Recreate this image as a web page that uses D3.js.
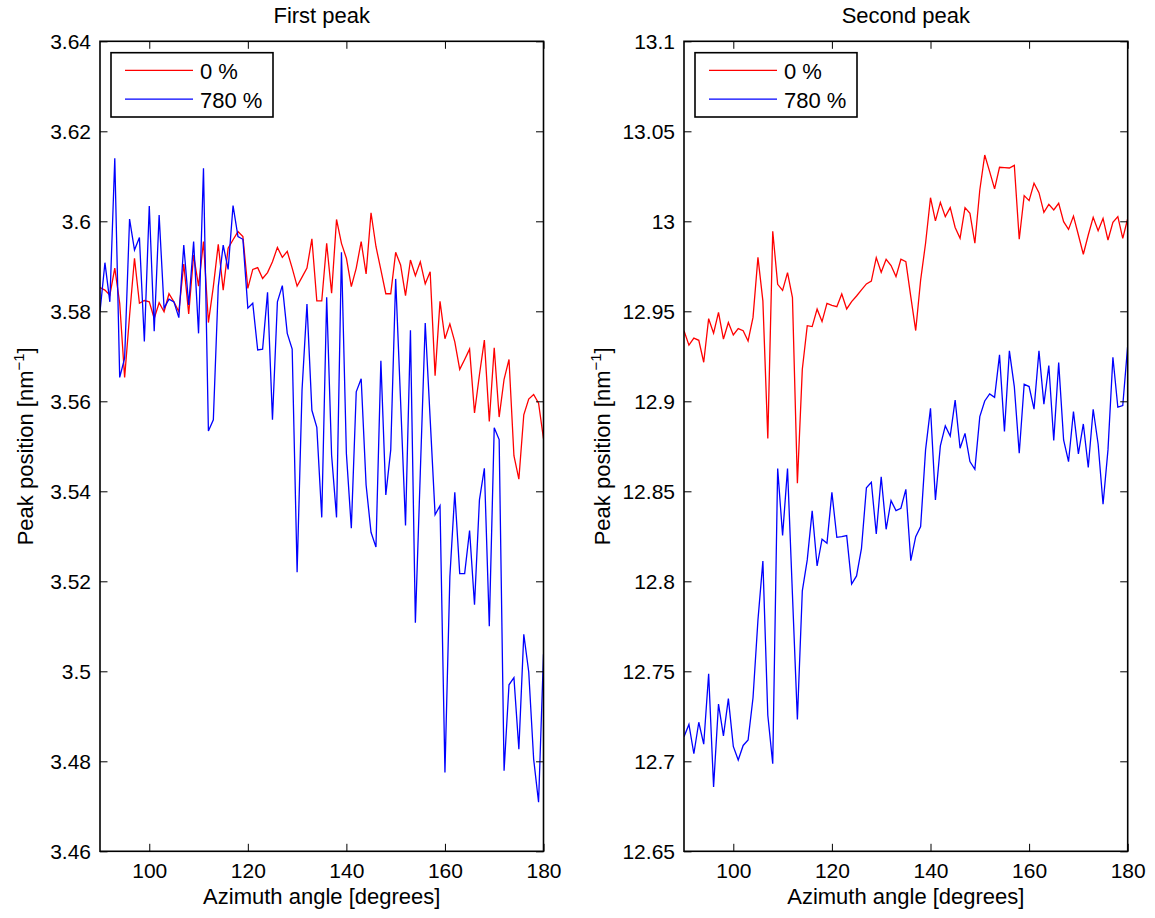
<!DOCTYPE html>
<html>
<head>
<meta charset="utf-8">
<script src="https://cdn.jsdelivr.net/npm/d3@7"></script>
<style>
  body { margin: 0; background: #fff; }
  svg { display: block; font-family: "Liberation Sans", Arial, sans-serif; }
</style>
</head>
<body>
<svg id="chart" width="1155" height="918"></svg>
<script>
// Azimuth angles, one sample per degree
const angles = d3.range(90, 181);
const seriesNames = ['0 %', '780 %'];
const seriesColors = ['#ff0000', '#0000ff'];
const xTicks = [100, 120, 140, 160, 180];

// First peak positions [nm^-1]
const firstPeak0 = [
  3.5853, 3.5847, 3.5836, 3.5896, 3.5818, 3.5653, 3.5790, 3.5918, 3.5818, 3.5824,
  3.5821, 3.5784, 3.5819, 3.5799, 3.5839, 3.5821, 3.5799, 3.5905, 3.5794, 3.5925,
  3.5856, 3.5955, 3.5775, 3.5855, 3.5949, 3.5847, 3.5940, 3.5959, 3.5977, 3.5966,
  3.5851, 3.5893, 3.5897, 3.5873, 3.5886, 3.5910, 3.5942, 3.5920, 3.5933, 3.5896,
  3.5856, 3.5876, 3.5896, 3.5961, 3.5823, 3.5823, 3.5951, 3.5840, 3.6004, 3.5951,
  3.5918, 3.5855, 3.5896, 3.5955, 3.5883, 3.6019, 3.5944, 3.5892, 3.5839, 3.5839,
  3.5931, 3.5903, 3.5835, 3.5914, 3.5879, 3.5910, 3.5861, 3.5888, 3.5657, 3.5822,
  3.5739, 3.5772, 3.5732, 3.5671, 3.5693, 3.5716, 3.5574, 3.5659, 3.5736, 3.5555,
  3.5719, 3.5565, 3.5649, 3.5693, 3.5479, 3.5427, 3.5570, 3.5605, 3.5615, 3.5596,
  3.5517
];
const firstPeak780 = [
  3.5799, 3.5908, 3.5821, 3.6140, 3.5653, 3.5696, 3.6005, 3.5936, 3.5964, 3.5733,
  3.6034, 3.5756, 3.6014, 3.5807, 3.5827, 3.5821, 3.5786, 3.5947, 3.5814, 3.5955,
  3.5751, 3.6118, 3.5534, 3.5559, 3.5855, 3.5947, 3.5893, 3.6035, 3.5966, 3.5960,
  3.5807, 3.5818, 3.5714, 3.5716, 3.5842, 3.5559, 3.5821, 3.5857, 3.5751, 3.5716,
  3.5220, 3.5625, 3.5816, 3.5580, 3.5542, 3.5342, 3.5831, 3.5480, 3.5342, 3.5931,
  3.5484, 3.5318, 3.5621, 3.5650, 3.5414, 3.5309, 3.5276, 3.5690, 3.5392, 3.5492,
  3.5872, 3.5600, 3.5324, 3.5758, 3.5108, 3.5442, 3.5774, 3.5561, 3.5348, 3.5368,
  3.4775, 3.5210, 3.5398, 3.5217, 3.5217, 3.5313, 3.5148, 3.5381, 3.5451, 3.5100,
  3.5541, 3.5515, 3.4779, 3.4970, 3.4986, 3.4827, 3.5082, 3.4999, 3.4805, 3.4709,
  3.5038
];
const firstTicks = [3.46, 3.48, 3.5, 3.52, 3.54, 3.56, 3.58, 3.6, 3.62, 3.64];

// Second peak positions [nm^-1]
const secondPeak0 = [
  12.9392, 12.9312, 12.9351, 12.9339, 12.9217, 12.9459, 12.9378, 12.9494, 12.9346, 12.9438,
  12.9369, 12.9404, 12.9392, 12.9335, 12.9466, 12.9800, 12.9558, 12.8794, 12.9945, 12.9650,
  12.9616, 12.9715, 12.9576, 12.8545, 12.9178, 12.9420, 12.9415, 12.9512, 12.9443, 12.9544,
  12.9533, 12.9526, 12.9596, 12.9513, 12.9554, 12.9585, 12.9619, 12.9652, 12.9668, 12.9798,
  12.9717, 12.9789, 12.9754, 12.9693, 12.9789, 12.9776, 12.9582, 12.9393, 12.9674, 12.9878,
  13.0131, 13.0002, 13.0105, 13.0026, 13.0076, 12.9966, 12.9906, 13.0076, 13.0044, 12.9878,
  13.0174, 13.0368, 13.0276, 13.0180, 13.0300, 13.0298, 13.0296, 13.0311, 12.9900, 13.0143,
  13.0115, 13.0211, 13.0159, 13.0050, 13.0094, 13.0063, 13.0100, 12.9998, 12.9955, 13.0029,
  12.9924, 12.9817, 12.9924, 13.0022, 12.9948, 13.0016, 12.9896, 12.9994, 13.0026, 12.9905,
  13.0016
];
const secondPeak780 = [
  12.7136, 12.7205, 12.7042, 12.7217, 12.7095, 12.7486, 12.6858, 12.7318, 12.7141, 12.7348,
  12.7083, 12.7007, 12.7088, 12.7118, 12.7353, 12.7785, 12.8112, 12.7256, 12.6987, 12.8626,
  12.8255, 12.8626, 12.7924, 12.7233, 12.7947, 12.8119, 12.8391, 12.8085, 12.8234, 12.8211,
  12.8494, 12.8244, 12.8248, 12.8254, 12.7985, 12.8030, 12.8183, 12.8520, 12.8550, 12.8263,
  12.8581, 12.8289, 12.8448, 12.8393, 12.8406, 12.8511, 12.8115, 12.8248, 12.8304, 12.8730,
  12.8961, 12.8452, 12.8752, 12.8863, 12.8807, 12.9007, 12.8739, 12.8822, 12.8665, 12.8622,
  12.8915, 12.9002, 12.9041, 12.9022, 12.9258, 12.8832, 12.9280, 12.9082, 12.8711, 12.9095,
  12.9082, 12.8956, 12.9280, 12.8984, 12.9199, 12.8782, 12.9215, 12.8785, 12.8665, 12.8943,
  12.8708, 12.8874, 12.8633, 12.8956, 12.8763, 12.8428, 12.8730, 12.9245, 12.8967, 12.8976,
  12.9310
];
const secondTicks = [12.65, 12.7, 12.75, 12.8, 12.85, 12.9, 12.95, 13, 13.05, 13.1];

const svg = d3.select('#chart');
const plotTop = 41.3, plotBottom = 851.3;
const tickLen = 7.5;

function drawPanel(opts) {
  const { left, right, title, series, yTicks, yLabelX, id } = opts;

  const x = d3.scaleLinear().domain([90, 180]).range([left, right]);
  const y = d3.scaleLinear().domain([yTicks[0], yTicks[yTicks.length - 1]]).range([plotBottom, plotTop]);

  const g = svg.append('g');

  g.append('clipPath').attr('id', 'clip-' + id)
    .append('rect')
    .attr('x', left).attr('y', plotTop)
    .attr('width', right - left).attr('height', plotBottom - plotTop);

  // Data lines
  const line = d3.line()
    .x((d, i) => x(angles[i]))
    .y(d => y(d));

  g.append('g')
    .attr('clip-path', `url(#clip-${id})`)
    .selectAll('path')
    .data(series)
    .join('path')
    .attr('d', d => line(d))
    .attr('fill', 'none')
    .attr('stroke', (d, i) => seriesColors[i])
    .attr('stroke-width', 1.3)
    .attr('stroke-linejoin', 'miter');

  // Axes, ticks pointing inward on all four sides
  const fmt = d3.format('~g');
  const styleAxis = sel => {
    sel.select('.domain').remove();
    sel.selectAll('.tick line').attr('stroke', '#000').attr('stroke-width', 1);
    sel.selectAll('.tick text')
      .attr('fill', '#000')
      .style('font-size', '21px')
      .style('font-family', '"Liberation Sans", Arial, sans-serif');
  };

  g.append('g')
    .attr('transform', `translate(0,${plotBottom})`)
    .call(d3.axisBottom(x).tickValues(xTicks).tickSize(-tickLen).tickPadding(12).tickFormat(fmt))
    .call(styleAxis);
  g.append('g')
    .attr('transform', `translate(0,${plotTop})`)
    .call(d3.axisTop(x).tickValues(xTicks).tickSize(-tickLen).tickFormat(''))
    .call(styleAxis);
  g.append('g')
    .attr('transform', `translate(${left},0)`)
    .call(d3.axisLeft(y).tickValues(yTicks).tickSize(-tickLen).tickPadding(9).tickFormat(fmt))
    .call(styleAxis);
  g.append('g')
    .attr('transform', `translate(${right},0)`)
    .call(d3.axisRight(y).tickValues(yTicks).tickSize(-tickLen).tickFormat(''))
    .call(styleAxis);

  // Box
  g.append('rect')
    .attr('x', left).attr('y', plotTop)
    .attr('width', right - left).attr('height', plotBottom - plotTop)
    .attr('fill', 'none')
    .attr('stroke', '#000')
    .attr('stroke-width', 1.6);

  // Title and labels
  const mid = (left + right) / 2;
  g.append('text')
    .attr('x', mid).attr('y', 23.3)
    .attr('text-anchor', 'middle')
    .style('font-size', '22px')
    .text(title);

  g.append('text')
    .attr('x', mid).attr('y', 904)
    .attr('text-anchor', 'middle')
    .style('font-size', '22px')
    .text('Azimuth angle [degrees]');

  const yl = g.append('text')
    .attr('transform', `translate(${yLabelX},${(plotTop + plotBottom) / 2}) rotate(-90)`)
    .attr('text-anchor', 'middle')
    .style('font-size', '22px');
  yl.append('tspan').text('Peak position [nm');
  yl.append('tspan').attr('dy', -9).style('font-size', '15px').text('\u22121');
  yl.append('tspan').attr('dy', 9).text(']');

  // Legend
  const lg = g.append('g');
  lg.append('rect')
    .attr('x', left + 11).attr('y', 52.7)
    .attr('width', 162).attr('height', 64.3)
    .attr('fill', '#fff')
    .attr('stroke', '#000')
    .attr('stroke-width', 1.6);

  const rows = lg.selectAll('g.row')
    .data(seriesNames)
    .join('g')
    .attr('class', 'row')
    .attr('transform', (d, i) => `translate(0,${70.3 + i * 28.8})`);
  rows.append('line')
    .attr('x1', left + 25).attr('x2', left + 93)
    .attr('stroke', (d, i) => seriesColors[i])
    .attr('stroke-width', 1.3);
  rows.append('text')
    .attr('x', left + 100).attr('y', 8.5)
    .style('font-size', '22px')
    .text(d => d);
}

drawPanel({
  id: 'first', left: 100, right: 543.5, title: 'First peak',
  series: [firstPeak0, firstPeak780], yTicks: firstTicks, yLabelX: 33
});
drawPanel({
  id: 'second', left: 684, right: 1127.7, title: 'Second peak',
  series: [secondPeak0, secondPeak780], yTicks: secondTicks, yLabelX: 610
});
</script>
</body>
</html>
